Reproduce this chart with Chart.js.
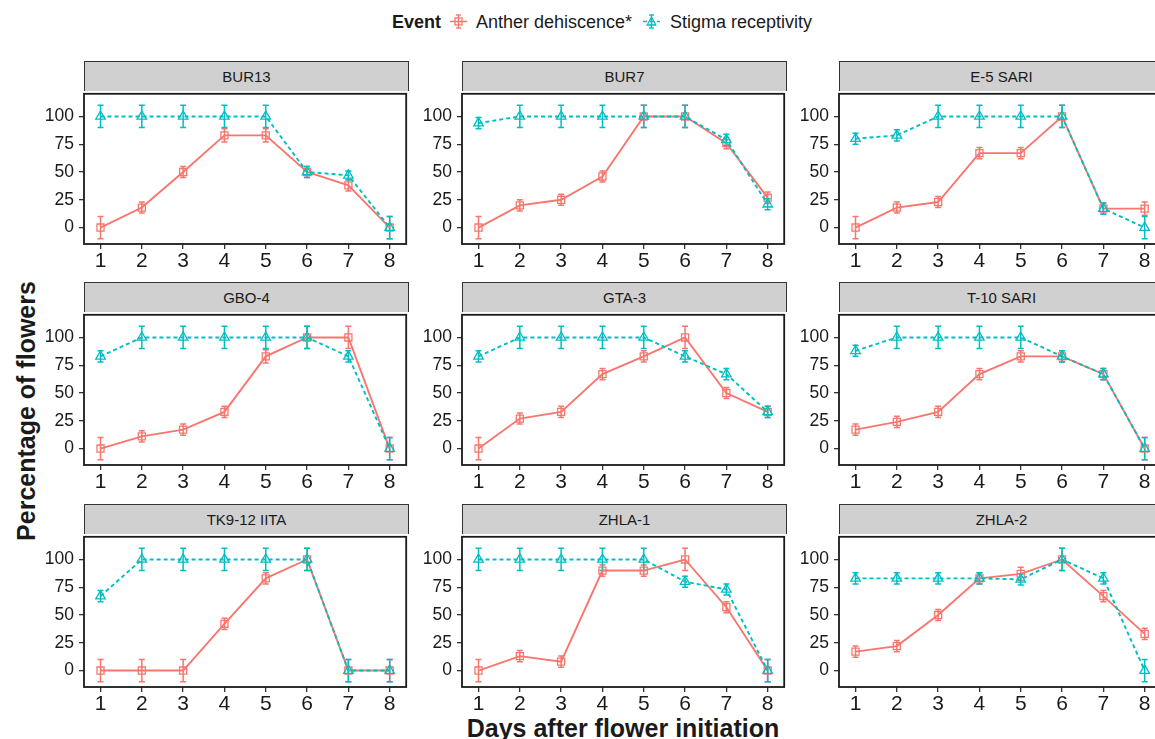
<!DOCTYPE html>
<html lang="en">
<head>
  <meta charset="UTF-8">
  <title>Flowering events by genotype</title>
  <script src="https://cdn.jsdelivr.net/npm/chart.js"></script>
  <style>
    body { margin: 0; width: 1155px; height: 739px; overflow: hidden; position: relative; background: #fff;
           font-family: "Liberation Sans", Arial, sans-serif; color: #1a1a1a; }
    .abs { position: absolute; white-space: nowrap; }
    .strip { position: absolute; box-sizing: border-box; background: #d0d0d0; border: 1px solid #333;
             border-bottom: none; font-size: 15px; text-align: center; line-height: 29px; }
    .panel { position: absolute; }
    .leg { font-size: 18px; line-height: 20px; top: 12px; }
  </style>
</head>
<body>
  <div class="abs leg" style="left:392px;font-weight:bold">Event</div>
  <svg class="abs" style="left:450px;top:13px" width="17" height="17">
    <line x1="0" y1="8.5" x2="17" y2="8.5" stroke="#F8766D" stroke-width="1.5"/>
    <line x1="8.5" y1="2" x2="8.5" y2="15" stroke="#F8766D" stroke-width="1.4"/>
    <line x1="6" y1="2" x2="11" y2="2" stroke="#F8766D" stroke-width="1.4"/>
    <line x1="6" y1="15" x2="11" y2="15" stroke="#F8766D" stroke-width="1.4"/>
    <rect x="5" y="5" width="7" height="7" fill="none" stroke="#F8766D" stroke-width="1.3"/>
  </svg>
  <div class="abs leg" style="left:476px">Anther dehiscence*</div>
  <svg class="abs" style="left:643px;top:13px" width="17" height="17">
    <line x1="0" y1="8.5" x2="17" y2="8.5" stroke="#00BFC4" stroke-width="1.5" stroke-dasharray="4 3"/>
    <line x1="8.5" y1="2" x2="8.5" y2="15" stroke="#00BFC4" stroke-width="1.4"/>
    <line x1="6" y1="2" x2="11" y2="2" stroke="#00BFC4" stroke-width="1.4"/>
    <line x1="6" y1="15" x2="11" y2="15" stroke="#00BFC4" stroke-width="1.4"/>
    <polygon points="8.5,4 12.8,12 4.2,12" fill="none" stroke="#00BFC4" stroke-width="1.3"/>
  </svg>
  <div class="abs leg" style="left:670px">Stigma receptivity</div>

  <div class="abs" style="left:26px;top:411px;transform:translate(-50%,-50%) rotate(-90deg);font-size:25px;font-weight:bold">Percentage of flowers</div>
  <div class="abs" style="left:623px;top:716px;transform:translateX(-50%);font-size:25px;font-weight:bold;line-height:1">Days after flower initiation</div>

  <script>
    // facets, x values and y ticks
    const genotypes = ['BUR13', 'BUR7', 'E-5 SARI', 'GBO-4', 'GTA-3', 'T-10 SARI', 'TK9-12 IITA', 'ZHLA-1', 'ZHLA-2'];
    const days = [1, 2, 3, 4, 5, 6, 7, 8];
    const yTicks = [0, 25, 50, 75, 100];

    // percentage of flowers, one row per genotype
    const antherPct = [
      [0, 18, 50, 83, 83, 50, 38, 0],
      [0, 20, 25, 46, 100, 100, 76, 27],
      [0, 18, 23, 67, 67, 100, 17, 17],
      [0, 11, 17, 33, 83, 100, 100, 0],
      [0, 27, 33, 67, 83, 100, 50, 33],
      [17, 24, 33, 67, 83, 83, 67, 0],
      [0, 0, 0, 42, 83, 100, 0, 0],
      [0, 13, 8, 90, 90, 100, 57, 0],
      [17, 22, 50, 83, 87, 100, 67, 33]
    ];
    const stigmaPct = [
      [100, 100, 100, 100, 100, 50, 47, 0],
      [94, 100, 100, 100, 100, 100, 79, 21],
      [80, 83, 100, 100, 100, 100, 17, 0],
      [83, 100, 100, 100, 100, 100, 83, 0],
      [83, 100, 100, 100, 100, 83, 67, 33],
      [88, 100, 100, 100, 100, 83, 67, 0],
      [67, 100, 100, 100, 100, 100, 0, 0],
      [100, 100, 100, 100, 100, 80, 73, 0],
      [83, 83, 83, 83, 82, 100, 83, 0]
    ];
    // error bar half widths
    const antherSe = [
      [10, 5, 5, 6, 6, 5, 5, 10],
      [10, 5, 5, 5, 10, 10, 5, 5],
      [10, 5, 5, 5, 5, 10, 5, 6],
      [10, 5, 5, 5, 6, 10, 10, 10],
      [10, 5, 5, 5, 5, 10, 5, 5],
      [5, 5, 5, 5, 5, 5, 5, 10],
      [10, 10, 10, 5, 5, 10, 10, 10],
      [10, 5, 5, 5, 5, 10, 5, 10],
      [5, 5, 5, 5, 6, 10, 5, 5]
    ];
    const stigmaSe = [
      [10, 10, 10, 10, 10, 5, 4, 10],
      [5, 10, 10, 10, 10, 10, 5, 5],
      [5, 5, 10, 10, 10, 10, 5, 10],
      [5, 10, 10, 10, 10, 10, 5, 10],
      [5, 10, 10, 10, 10, 5, 5, 5],
      [5, 10, 10, 10, 10, 5, 5, 10],
      [5, 10, 10, 10, 10, 10, 10, 10],
      [10, 10, 10, 10, 10, 5, 5, 10],
      [5, 5, 5, 5, 5, 10, 5, 10]
    ];

    const red = '#F8766D', teal = '#00BFC4';
    const colLeft = [84, 462, 839];
    const rowTop = [91, 312, 534];
    const plotW = 325, plotH = 153, axisW = 84, axisH = 34, pad = 4;

    // vertical error bars drawn under the lines
    const errorBars = {
      id: 'errorBars',
      beforeDatasetsDraw(chart) {
        const ctx = chart.ctx, ys = chart.scales.y;
        chart.data.datasets.forEach((ds, di) => {
          const meta = chart.getDatasetMeta(di);
          ctx.save();
          ctx.strokeStyle = ds.borderColor;
          ctx.lineWidth = 1.5;
          meta.data.forEach((pt, k) => {
            const v = ds.data[k].y, e = ds.se[k];
            const top = ys.getPixelForValue(v + e), bot = ys.getPixelForValue(v - e);
            ctx.beginPath();
            ctx.moveTo(pt.x, top); ctx.lineTo(pt.x, bot);
            ctx.moveTo(pt.x - 3, top); ctx.lineTo(pt.x + 3, top);
            ctx.moveTo(pt.x - 3, bot); ctx.lineTo(pt.x + 3, bot);
            ctx.stroke();
          });
          ctx.restore();
        });
      }
    };

    // panel border
    const frame = {
      id: 'frame',
      afterDraw(chart) {
        const a = chart.chartArea, ctx = chart.ctx;
        ctx.save();
        ctx.strokeStyle = '#1a1a1a';
        ctx.lineWidth = 1.8;
        ctx.strokeRect(a.left, a.top, a.right - a.left, a.bottom - a.top);
        ctx.restore();
      }
    };

    genotypes.forEach((name, i) => {
      const c = i % 3, r = Math.floor(i / 3);

      const strip = document.createElement('div');
      strip.className = 'strip';
      strip.style.left = colLeft[c] + 'px';
      strip.style.top = (rowTop[r] - 30) + 'px';
      strip.style.width = plotW + 'px';
      strip.style.height = '30px';
      strip.textContent = name;
      document.body.appendChild(strip);

      const box = document.createElement('div');
      box.className = 'panel';
      box.style.left = (colLeft[c] - axisW) + 'px';
      box.style.top = (rowTop[r] - pad) + 'px';
      const cv = document.createElement('canvas');
      cv.width = axisW + plotW + pad;
      cv.height = pad + plotH + axisH;
      box.appendChild(cv);
      document.body.appendChild(box);

      new Chart(cv, {
        type: 'line',
        data: {
          datasets: [{
            label: 'Anther dehiscence*',
            data: days.map((d, k) => ({ x: d, y: antherPct[i][k] })),
            se: antherSe[i],
            order: 1,
            borderColor: red,
            borderWidth: 1.9,
            pointStyle: 'rect',
            pointRadius: 5,
            pointBorderWidth: 1.3,
            pointBorderColor: red,
            pointBackgroundColor: 'rgba(0,0,0,0)'
          }, {
            label: 'Stigma receptivity',
            data: days.map((d, k) => ({ x: d, y: stigmaPct[i][k] })),
            se: stigmaSe[i],
            order: 0,
            borderColor: teal,
            borderWidth: 1.9,
            borderDash: [4, 3],
            pointStyle: 'triangle',
            pointRadius: 5.5,
            pointBorderWidth: 1.3,
            pointBorderColor: teal,
            pointBackgroundColor: 'rgba(0,0,0,0)'
          }]
        },
        options: {
          responsive: false,
          animation: false,
          layout: { padding: { top: pad, right: pad, left: 0, bottom: 0 } },
          plugins: { legend: { display: false }, tooltip: { enabled: false } },
          scales: {
            x: {
              type: 'linear', min: 0.6, max: 8.4,
              afterBuildTicks: s => { s.ticks = days.map(v => ({ value: v })); },
              afterFit: s => { s.height = axisH; s.paddingLeft = 0; s.paddingRight = 0; },
              ticks: { font: { family: 'Liberation Sans', size: 21 }, color: '#1a1a1a', padding: 0, maxRotation: 0, autoSkip: false },
              grid: { drawOnChartArea: false, tickLength: 5, color: '#333', lineWidth: 1.3 },
              border: { display: false }
            },
            y: {
              min: -14.8, max: 120.4,
              afterBuildTicks: s => { s.ticks = yTicks.map(v => ({ value: v })); },
              afterFit: s => { s.width = axisW; s.paddingTop = 0; s.paddingBottom = 0; },
              ticks: { font: { family: 'Liberation Sans', size: 17.5 }, color: '#1a1a1a', padding: 5 },
              grid: { drawOnChartArea: false, tickLength: 5, color: '#333', lineWidth: 1.3 },
              border: { display: false }
            }
          }
        },
        plugins: [errorBars, frame]
      });
    });
  </script>
</body>
</html>
